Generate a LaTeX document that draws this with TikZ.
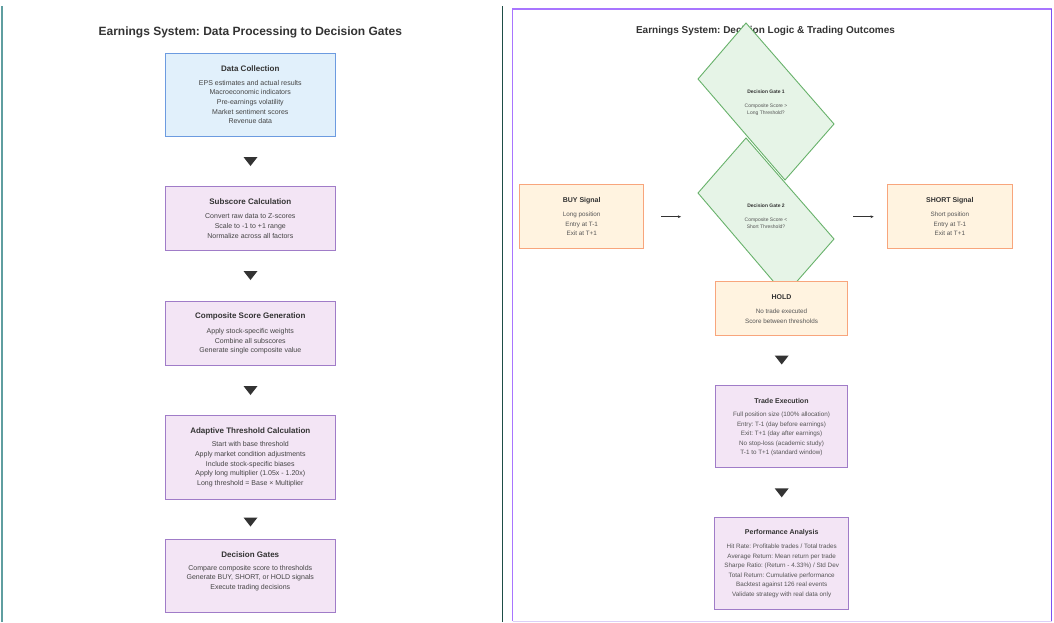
\documentclass[tikz,border=0pt]{standalone}
\usepackage{fontspec}
\setmainfont{Liberation Sans}
\usetikzlibrary{arrows.meta,calc}
\definecolor{tealline}{HTML}{5F9EA0}
\definecolor{divline}{HTML}{1E4D46}
\definecolor{purpframe}{HTML}{A875FF}
\definecolor{purpframedark}{HTML}{7E50F0}
\definecolor{purpframelight}{HTML}{DCCFF7}
\definecolor{bluefill}{HTML}{E1F0FB}
\definecolor{blueedge}{HTML}{6C9BE0}
\definecolor{purpfill}{HTML}{F3E5F5}
\definecolor{purpedge}{HTML}{A07CC8}
\definecolor{orgfill}{HTML}{FFF3E0}
\definecolor{orgedge}{HTML}{F8A57C}
\definecolor{grnfill}{HTML}{E6F4E7}
\definecolor{grnedge}{HTML}{68B26B}
\definecolor{ttlcol}{HTML}{333333}
\definecolor{bodycol}{HTML}{444444}
\definecolor{rbodycol}{HTML}{555555}
\newcommand\downtri[1]{\fill[ttlcol] ($(#1)+(-7,-4.5)$) -- ($(#1)+(7,-4.5)$) -- ($(#1)+(0,4.5)$) -- cycle;}
\begin{document}
\frenchspacing
\begin{tikzpicture}[x=1pt,y=-1pt,
  box/.style={draw, line width=0.9pt, inner sep=0pt, outer sep=0pt},
  lbox/.style={box, minimum width=169.5pt},
  pbox/.style={fill=purpfill, draw=purpedge},
  obox/.style={box, fill=orgfill, draw=orgedge},
  gate/.style={draw=grnedge, fill=grnfill, line width=0.9pt, line join=miter},
  ltitle/.style={font=\fontsize{8}{9.6}\selectfont\bfseries, text=ttlcol, inner sep=0pt},
  lbody/.style={font=\fontsize{7}{9.67}\selectfont, align=center, text=bodycol, inner sep=0pt},
  rtitle/.style={font=\fontsize{7}{8.4}\selectfont\bfseries, text=ttlcol, inner sep=0pt},
  rbody/.style={font=\fontsize{6.3}{9.5}\selectfont, align=center, text=rbodycol, inner sep=0pt},
  gtitle/.style={font=\fontsize{5}{6}\selectfont\bfseries, text=ttlcol, inner sep=0pt},
  gbody/.style={font=\fontsize{5}{7.3}\selectfont, align=center, text=rbodycol, inner sep=0pt},
  conn/.style={-{Stealth[length=3.2pt,width=2.8pt]}, line width=0.6pt, draw=ttlcol},
]
\useasboundingbox (0,0) rectangle (1054,622);
\fill[white] (0,0) rectangle (1054,622);
% frame lines
\draw[tealline, line width=1.5pt] (2,6) -- (2,622);
\draw[divline, line width=1.2pt] (502.3,6) -- (502.3,622);
\draw[purpframelight, line width=1pt] (512.7,621) -- (1051.7,621);
\draw[purpframe, line width=1.5pt] (512.7,621) -- (512.7,9) -- (1051.7,9);
\draw[purpframedark, line width=1.5pt] (1051.7,9) -- (1051.7,621);

% ---------------- left panel ----------------
\node[font=\fontsize{12}{14}\selectfont\bfseries, text=ttlcol, inner sep=0pt] (ltit) at (250.3,32) {Earnings System: Data Processing to Decision Gates};

\node[lbox, fill=bluefill, draw=blueedge, minimum height=83.7pt] (dc) at (250.3,94.85) {};
\node[ltitle] (dct) at (250.3,68.3) {Data Collection};
\node[lbody] (dcb) at (250.3,102) {EPS estimates and actual results\\Macroeconomic indicators\\Pre-earnings volatility\\Market sentiment scores\\Revenue data};

\node[lbox, pbox, minimum height=64pt] (sc) at (250.3,218.7) {};
\node[ltitle] (sct) at (250.3,202) {Subscore Calculation};
\node[lbody] (scb) at (250.3,225.9) {Convert raw data to Z-scores\\Scale to -1 to +1 range\\Normalize across all factors};

\node[lbox, pbox, minimum height=64pt] (cs) at (250.3,333) {};
\node[ltitle] (cst) at (250.3,316.7) {Composite Score Generation};
\node[lbody] (csb) at (250.3,341.5) {Apply stock-specific weights\\Combine all subscores\\Generate single composite value};

\node[lbox, pbox, minimum height=83.7pt] (at) at (250.3,457.15) {};
\node[ltitle] (att) at (250.3,431) {Adaptive Threshold Calculation};
\node[lbody] (atb) at (250.3,464.3) {Start with base threshold\\Apply market condition adjustments\\Include stock-specific biases\\Apply long multiplier (1.05x - 1.20x)\\Long threshold = Base × Multiplier};

\node[lbox, pbox, minimum height=73.7pt] (dg) at (250.3,575.85) {};
\node[ltitle] (dgt) at (250.3,555) {Decision Gates};
\node[lbody] (dgb) at (250.3,578) {Compare composite score to thresholds\\Generate BUY, SHORT, or HOLD signals\\Execute trading decisions};

\coordinate (t1) at (250.5,161.5);
\coordinate (t2) at (250.5,275.5);
\coordinate (t3) at (250.5,390.5);
\coordinate (t4) at (250.5,522);
\downtri{t1}\downtri{t2}\downtri{t3}\downtri{t4}

% ---------------- right panel ----------------
\node[font=\fontsize{10}{12}\selectfont\bfseries, text=ttlcol, inner sep=0pt] (rtit) at (765.5,30.7) {Earnings System: Decision Logic \& Trading Outcomes};

\coordinate (g1n) at (746,23);
\coordinate (g1e) at (834,124);
\coordinate (g1s) at (785,180);
\coordinate (g1w) at (698,79);
\filldraw[gate] (g1n) -- (g1e) -- (g1s) -- (g1w) -- cycle;
\node[gtitle] (g1t) at (766,92) {Decision Gate 1};
\node[gbody] (g1b) at (766,109.5) {Composite Score >\\Long Threshold?};

\coordinate (g2n) at (746,138);
\coordinate (g2e) at (834,239);
\coordinate (g2s) at (785,295);
\coordinate (g2w) at (698,193);
\filldraw[gate] (g2n) -- (g2e) -- (g2s) -- (g2w) -- cycle;
\node[gtitle] (g2t) at (766,206) {Decision Gate 2};
\node[gbody] (g2b) at (766,223.5) {Composite Score <\\Short Threshold?};

\node[obox, minimum width=124pt, minimum height=64pt] (buy) at (581.7,216.3) {};
\node[rtitle] (buyt) at (581.7,200.3) {BUY Signal};
\node[rbody] (buyb) at (581.7,224) {Long position\\Entry at T-1\\Exit at T+1};

\node[obox, minimum width=124.3pt, minimum height=64pt] (short) at (949.85,216.3) {};
\node[rtitle] (shortt) at (949.85,200.3) {SHORT Signal};
\node[rbody] (shortb) at (949.85,224) {Short position\\Entry at T-1\\Exit at T+1};

\coordinate (a1s) at (661,216.7);
\coordinate (a1e) at (681,216.7);
\coordinate (a2s) at (853.3,216.7);
\coordinate (a2e) at (873.7,216.7);
\draw[conn] (a1s) -- (a1e);
\draw[conn] (a2s) -- (a2e);

\node[obox, minimum width=131.6pt, minimum height=53.3pt] (hold) at (781.5,308.35) {};
\node[rtitle] (holdt) at (781.5,296.7) {HOLD};
\node[rbody] (holdb) at (781.5,316.15) {No trade executed\\Score between thresholds};

\node[box, pbox, minimum width=131.6pt, minimum height=82.7pt] (te) at (781.5,426.35) {};
\node[rtitle] (tet) at (781.5,400.7) {Trade Execution};
\node[rbody] (teb) at (781.5,434) {Full position size (100\% allocation)\\Entry: T-1 (day before earnings)\\Exit: T+1 (day after earnings)\\No stop-loss (academic study)\\T-1 to T+1 (standard window)};

\node[box, pbox, minimum width=134pt, minimum height=92pt] (pa) at (781.7,563.3) {};
\node[rtitle] (pat) at (781.7,533) {Performance Analysis};
\node[rbody] (pab) at (781.7,571) {Hit Rate: Profitable trades / Total trades\\Average Return: Mean return per trade\\Sharpe Ratio: (Return - 4.33\%) / Std Dev\\Total Return: Cumulative performance\\Backtest against 126 real events\\Validate strategy with real data only};

\coordinate (t5) at (781.7,360);
\coordinate (t6) at (781.7,492.8);
\downtri{t5}\downtri{t6}
\end{tikzpicture}
\end{document}
